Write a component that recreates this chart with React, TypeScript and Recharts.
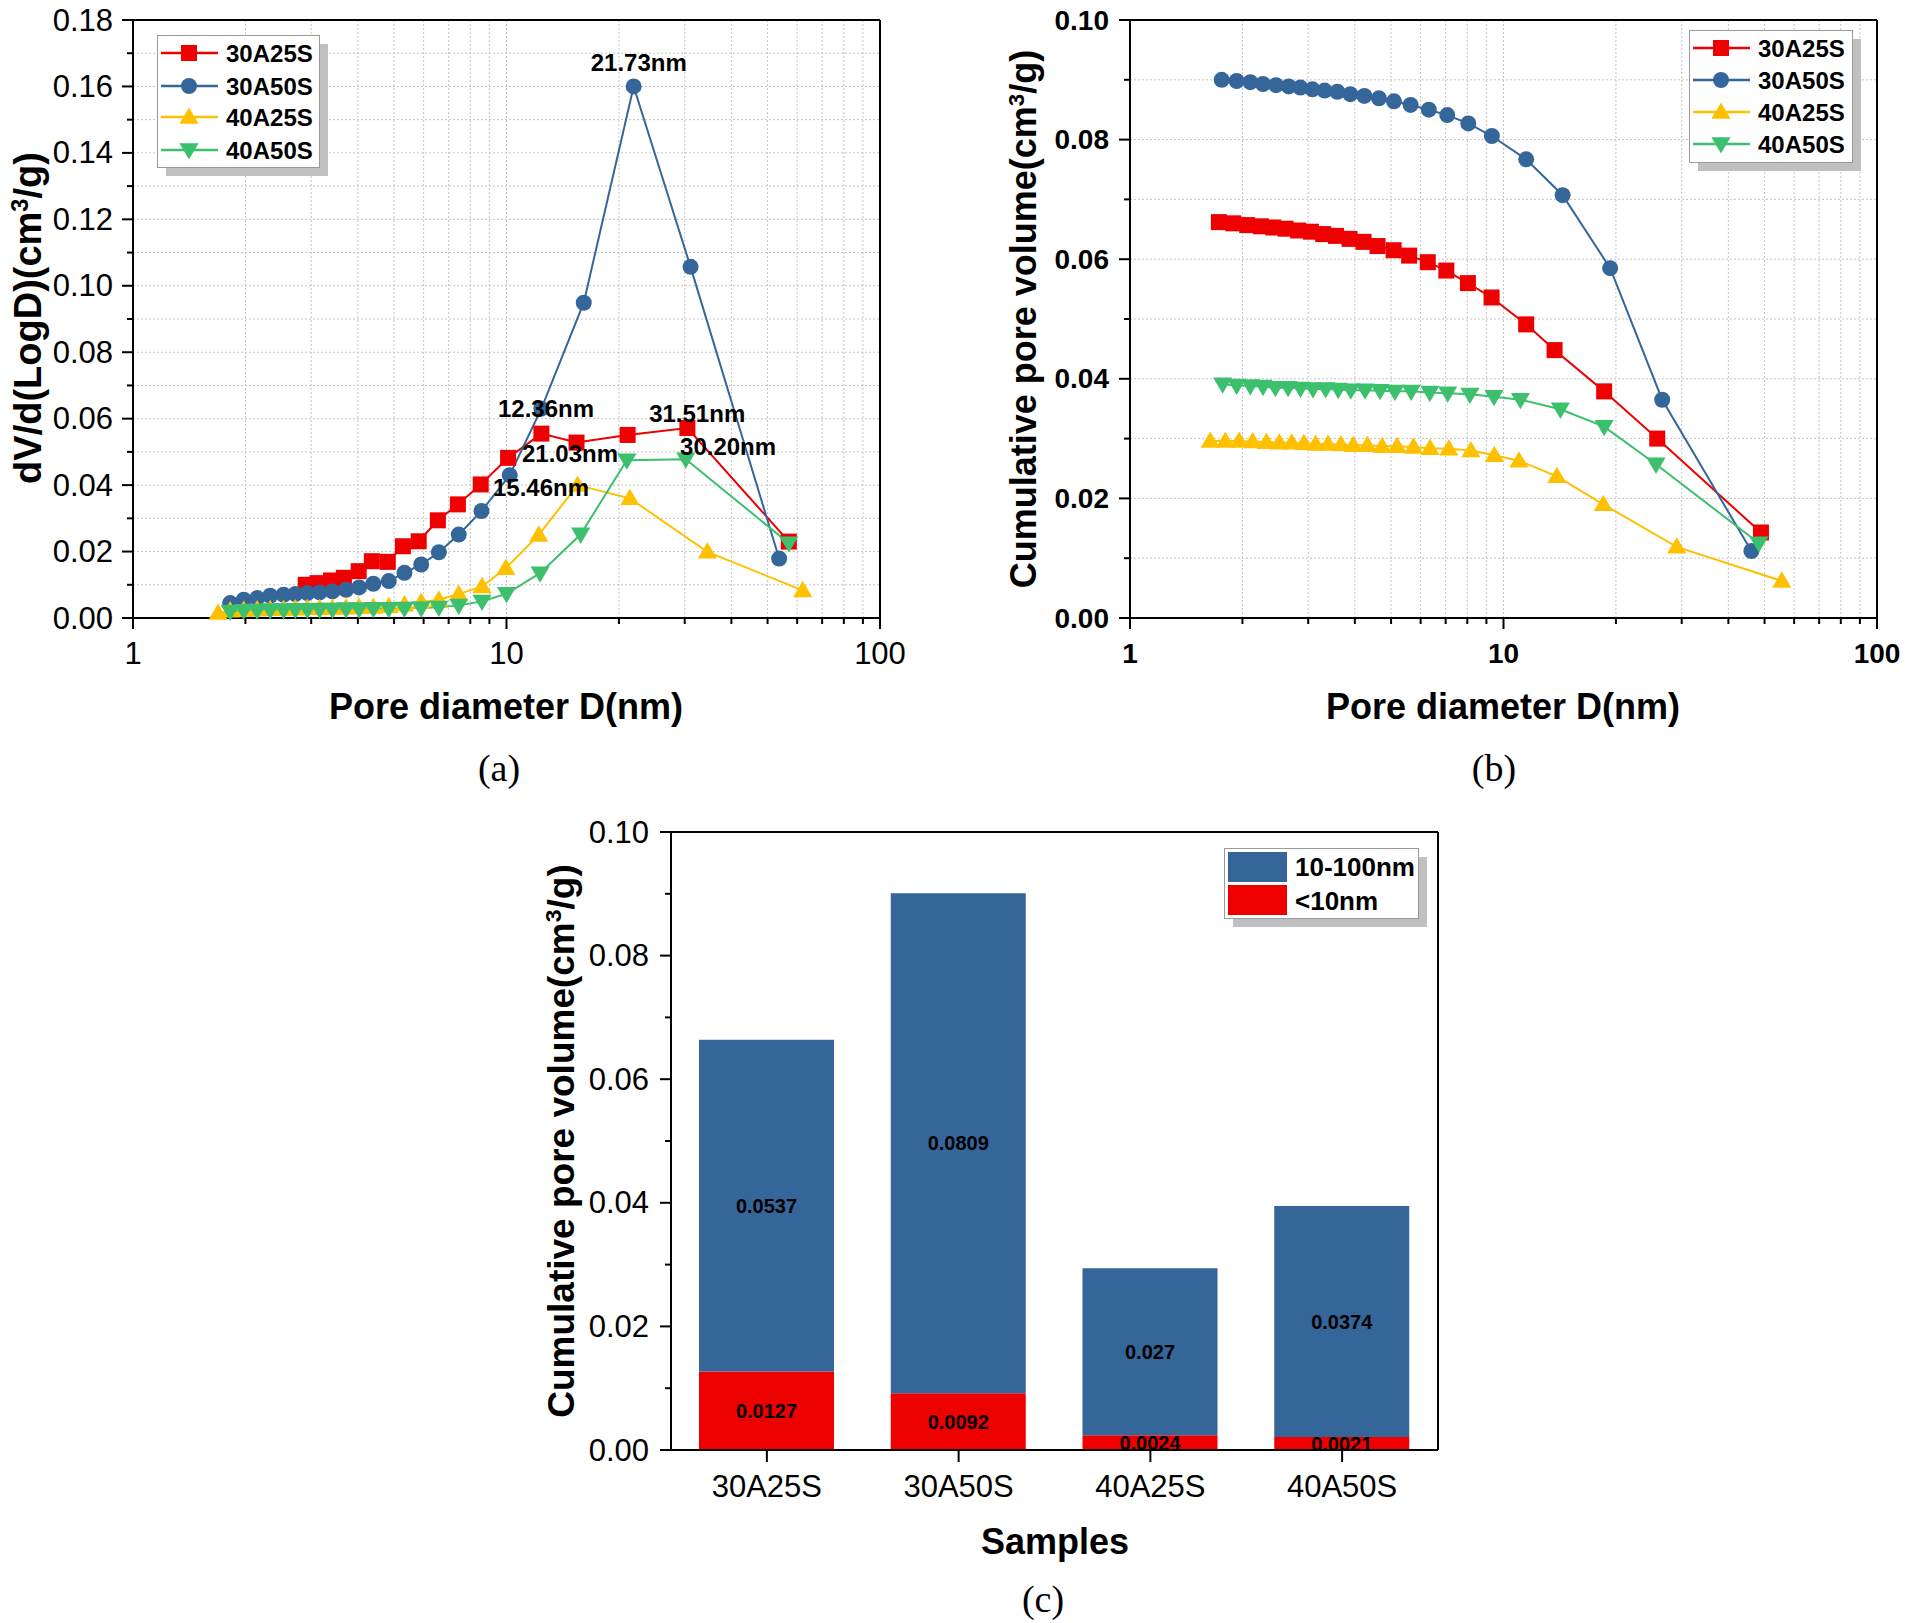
import React from "react";
import {
  Bar,
  BarChart,
  CartesianGrid,
  LabelList,
  Legend,
  Line,
  LineChart,
  ReferenceDot,
  XAxis,
  YAxis,
} from "recharts";

const FONT = "'Liberation Sans', Arial, Helvetica, sans-serif";
const SERIF = "'Liberation Serif', 'Times New Roman', serif";
const RED = "#ee0000";
const BLUE = "#35669a";
const YELLOW = "#ffc000";
const GREEN = "#3cc06e";
const GRID = "#c4c4c4";
const AX = { stroke: "#000", strokeWidth: 2 };

// ---- (a) pore size distribution, dV/d(logD)
const PSD_30A25S_D = [2.9, 3.12, 3.39, 3.67, 4.02, 4.36, 4.81, 5.28, 5.82, 6.55, 7.41, 8.53, 10.1, 12.4, 15.4, 21.1, 30.5, 57.0];
const PSD_30A25S_V = [0.01, 0.0105, 0.0113, 0.0121, 0.0141, 0.0171, 0.0169, 0.0216, 0.0231, 0.0294, 0.0342, 0.0402, 0.0482, 0.0555, 0.0528, 0.0551, 0.0572, 0.023];
const PSD_30A50S_D = [1.82, 1.98, 2.15, 2.33, 2.53, 2.72, 2.93, 3.16, 3.42, 3.72, 4.03, 4.4, 4.84, 5.33, 5.91, 6.59, 7.45, 8.57, 10.2, 12.4, 16.1, 21.9, 31.1, 53.7];
const PSD_30A50S_V = [0.0045, 0.0055, 0.006, 0.0067, 0.007, 0.0072, 0.0075, 0.0077, 0.008, 0.0085, 0.0092, 0.0103, 0.0111, 0.0136, 0.0161, 0.0198, 0.0251, 0.0322, 0.043, 0.063, 0.0949, 0.16, 0.1057, 0.0179];
const PSD_40A25S_D = [1.69, 1.82, 1.98, 2.15, 2.33, 2.53, 2.72, 2.93, 3.16, 3.42, 3.72, 4.03, 4.4, 4.84, 5.33, 5.91, 6.59, 7.45, 8.6, 9.96, 12.2, 15.5, 21.4, 34.5, 62.1];
const PSD_40A25S_V = [0.0015, 0.0022, 0.0024, 0.0025, 0.0026, 0.0027, 0.0028, 0.0029, 0.0029, 0.003, 0.0031, 0.0032, 0.0033, 0.0035, 0.004, 0.0048, 0.0055, 0.0072, 0.0095, 0.015, 0.025, 0.04, 0.036, 0.0199, 0.0083];
const PSD_40A50S_D = [1.82, 1.98, 2.15, 2.33, 2.53, 2.72, 2.93, 3.16, 3.42, 3.72, 4.03, 4.4, 4.84, 5.33, 5.91, 6.59, 7.45, 8.6, 10.0, 12.3, 15.8, 21.0, 30.2, 57.0];
const PSD_40A50S_V = [0.002, 0.0022, 0.0023, 0.0024, 0.0024, 0.0025, 0.0025, 0.0026, 0.0026, 0.0027, 0.0027, 0.0028, 0.0028, 0.0029, 0.003, 0.0032, 0.0038, 0.005, 0.0073, 0.0135, 0.0252, 0.0475, 0.0478, 0.0225];

// peak annotations (label centre in data coordinates)
const PEAK_TEXT = ["21.73nm", "12.36nm", "31.51nm", "21.03nm", "30.20nm", "15.46nm"];
const PEAK_X = [22.6, 12.76, 32.4, 14.79, 39.2, 12.37];
const PEAK_Y = [0.1671, 0.0632, 0.0617, 0.0494, 0.0515, 0.0394];

// ---- (b) cumulative pore volume
const CUM_30A25S_D = [1.73, 1.89, 2.06, 2.24, 2.42, 2.61, 2.82, 3.05, 3.29, 3.56, 3.87, 4.22, 4.6, 5.08, 5.59, 6.27, 7.03, 8.03, 9.29, 11.5, 13.7, 18.6, 25.8, 48.9];
const CUM_30A25S_V = [0.0662, 0.066, 0.0657, 0.0655, 0.0653, 0.0651, 0.0648, 0.0646, 0.0642, 0.0639, 0.0634, 0.0629, 0.0622, 0.0615, 0.0606, 0.0595, 0.0581, 0.056, 0.0536, 0.0491, 0.0448, 0.0379, 0.03, 0.0143];
const CUM_30A50S_D = [1.76, 1.93, 2.1, 2.27, 2.46, 2.66, 2.86, 3.08, 3.32, 3.59, 3.89, 4.24, 4.64, 5.09, 5.64, 6.31, 7.07, 8.05, 9.31, 11.5, 14.4, 19.3, 26.6, 46.1];
const CUM_30A50S_V = [0.09, 0.0898, 0.0896, 0.0893, 0.0891, 0.0889, 0.0887, 0.0884, 0.0882, 0.088, 0.0876, 0.0873, 0.0869, 0.0864, 0.0858, 0.085, 0.0841, 0.0827, 0.0806, 0.0767, 0.0707, 0.0585, 0.0365, 0.0112];
const CUM_40A25S_D = [1.64, 1.8, 1.96, 2.13, 2.32, 2.51, 2.71, 2.92, 3.14, 3.39, 3.67, 3.96, 4.32, 4.73, 5.19, 5.74, 6.36, 7.14, 8.18, 9.45, 11.0, 13.9, 18.5, 29.1, 55.6];
const CUM_40A25S_V = [0.0296, 0.0296, 0.0296, 0.0295, 0.0294, 0.0293, 0.0293, 0.0292, 0.0291, 0.0291, 0.029, 0.0289, 0.0289, 0.0287, 0.0287, 0.0286, 0.0284, 0.0283, 0.028, 0.0272, 0.0263, 0.0237, 0.019, 0.0119, 0.0062];
const CUM_40A50S_D = [1.77, 1.93, 2.1, 2.27, 2.45, 2.65, 2.86, 3.09, 3.34, 3.61, 3.9, 4.26, 4.67, 5.12, 5.66, 6.35, 7.09, 8.13, 9.43, 11.1, 14.2, 18.6, 25.6, 48.3];
const CUM_40A50S_V = [0.0391, 0.0389, 0.0388, 0.0387, 0.0385, 0.0385, 0.0384, 0.0383, 0.0383, 0.0382, 0.0381, 0.0381, 0.038, 0.0379, 0.0379, 0.0377, 0.0376, 0.0374, 0.037, 0.0365, 0.0349, 0.032, 0.0257, 0.0125];

// ---- (c) stacked pore volume
const SAMPLES = ["30A25S", "30A50S", "40A25S", "40A50S"];
const MICRO = [0.0127, 0.0092, 0.0024, 0.0021]; // <10nm
const MESO = [0.0537, 0.0809, 0.027, 0.0374]; // 10-100nm

// ---- ticks
const LOG_TICKS = [1, 2, 3, 4, 5, 6, 7, 8, 9, 10, 20, 30, 40, 50, 60, 70, 80, 90, 100];
const LOG_LABELS = [1, 10, 100];
const A_Y_TICKS = [0, 0.01, 0.02, 0.03, 0.04, 0.05, 0.06, 0.07, 0.08, 0.09, 0.1, 0.11, 0.12, 0.13, 0.14, 0.15, 0.16, 0.17, 0.18];
const B_Y_TICKS = [0, 0.01, 0.02, 0.03, 0.04, 0.05, 0.06, 0.07, 0.08, 0.09, 0.1];

const SERIES = [
  { name: "30A25S", color: RED, shape: "square" },
  { name: "30A50S", color: BLUE, shape: "circle" },
  { name: "40A25S", color: YELLOW, shape: "up" },
  { name: "40A50S", color: GREEN, shape: "down" },
];

const zip = (d: number[], v: number[]) => d.map((x, i) => ({ x, y: v[i] }));
const PSD = [
  zip(PSD_30A25S_D, PSD_30A25S_V),
  zip(PSD_30A50S_D, PSD_30A50S_V),
  zip(PSD_40A25S_D, PSD_40A25S_V),
  zip(PSD_40A50S_D, PSD_40A50S_V),
];
const CUM = [
  zip(CUM_30A25S_D, CUM_30A25S_V),
  zip(CUM_30A50S_D, CUM_30A50S_V),
  zip(CUM_40A25S_D, CUM_40A25S_V),
  zip(CUM_40A50S_D, CUM_40A50S_V),
];
const BARS = SAMPLES.map((name, i) => ({ name, micro: MICRO[i], meso: MESO[i] }));

function Marker({ cx, cy, shape, color, s = 16 }: any) {
  if (cx == null || cy == null) return null;
  const h = s / 2;
  if (shape === "square") return <rect x={cx - h} y={cy - h} width={s} height={s} fill={color} />;
  if (shape === "circle") return <circle cx={cx} cy={cy} r={h} fill={color} />;
  const t = h * 1.2;
  if (shape === "up")
    return <polygon points={`${cx},${cy - t} ${cx + t},${cy + t * 0.7} ${cx - t},${cy + t * 0.7}`} fill={color} />;
  return <polygon points={`${cx},${cy + t} ${cx + t},${cy - t * 0.7} ${cx - t},${cy - t * 0.7}`} fill={color} />;
}

const dotFor = (shape: string, color: string) => (p: any) =>
  <Marker key={`d${p.index}`} cx={p.cx} cy={p.cy} shape={shape} color={color} />;

function yTick(fontSize: number, bold: boolean, gap: number) {
  return (p: any) => {
    const v = p.payload.value;
    const major = Math.round(v * 100) % 2 === 0;
    return (
      <g>
        <line x1={p.x} x2={p.x - (major ? 11 : 6)} y1={p.y} y2={p.y} stroke="#000" strokeWidth={2} />
        {major && (
          <text x={p.x - gap} y={p.y} textAnchor="end" dominantBaseline="central" fontSize={fontSize}
            fontWeight={bold ? 700 : 400} fontFamily={FONT} fill="#000">
            {v.toFixed(2)}
          </text>
        )}
      </g>
    );
  };
}

function logXTick(fontSize: number, bold: boolean) {
  return (p: any) => {
    const v = p.payload.value;
    const major = LOG_LABELS.includes(v);
    return (
      <g>
        <line x1={p.x} x2={p.x} y1={p.y} y2={p.y + (major ? 11 : 6)} stroke="#000" strokeWidth={2} />
        {major && (
          <text x={p.x} y={p.y + 35} textAnchor="middle" dominantBaseline="central" fontSize={fontSize}
            fontWeight={bold ? 700 : 400} fontFamily={FONT} fill="#000">
            {String(v)}
          </text>
        )}
      </g>
    );
  };
}

function sampleTick(p: any) {
  return (
    <g>
      <line x1={p.x} x2={p.x} y1={p.y} y2={p.y + 12} stroke="#000" strokeWidth={2} />
      <text x={p.x} y={p.y + 36} textAnchor="middle" dominantBaseline="central" fontSize={31}
        fontFamily={FONT} fill="#000">
        {p.payload.value}
      </text>
    </g>
  );
}

function LineLegendBox({ w, h, rows }: { w: number; h: number; rows: number[] }) {
  return (
    <svg width={w + 12} height={h + 12} style={{ display: "block" }}>
      <rect x={9} y={9} width={w} height={h} fill="#c0c0c0" />
      <rect x={0.5} y={0.5} width={w} height={h} fill="#fff" stroke="#9a9a9a" strokeWidth={1} />
      {SERIES.map((s, i) => (
        <g key={s.name}>
          <line x1={4} x2={61} y1={rows[i]} y2={rows[i]} stroke={s.color} strokeWidth={2.5} />
          <Marker cx={32} cy={rows[i]} shape={s.shape} color={s.color} s={16} />
          <text x={69} y={rows[i]} dominantBaseline="central" fontSize={24} fontWeight={700}
            fontFamily={FONT} fill="#000">
            {s.name}
          </text>
        </g>
      ))}
    </svg>
  );
}

function BarLegendBox() {
  const items = [
    { name: "10-100nm", color: BLUE },
    { name: "<10nm", color: RED },
  ];
  return (
    <svg width={206} height={82} style={{ display: "block" }}>
      <rect x={9} y={9} width={194} height={70} fill="#c0c0c0" />
      <rect x={0.5} y={0.5} width={194} height={70} fill="#fff" stroke="#9a9a9a" strokeWidth={1} />
      {items.map((it, i) => (
        <g key={it.name}>
          <rect x={4} y={4 + i * 33} width={59} height={30} fill={it.color} />
          <text x={71} y={19 + i * 34} dominantBaseline="central" fontSize={26} fontWeight={700}
            fontFamily={FONT} fill="#000">
            {it.name}
          </text>
        </g>
      ))}
    </svg>
  );
}

// axes are 1px wide/high (zero-sized axes are not drawn); margins compensate
function PanelA() {
  return (
    <LineChart width={960} height={680} margin={{ top: 19, right: 79, bottom: 61, left: 132 }}>
      <CartesianGrid stroke={GRID} strokeDasharray="2 2" />
      <XAxis dataKey="x" type="number" scale="log" domain={[1, 100]} ticks={LOG_TICKS} interval={0}
        height={1} tickSize={0} tickMargin={0} tickLine={false} axisLine={AX} tick={logXTick(31, false)} />
      <XAxis xAxisId="top" orientation="top" type="number" scale="log" domain={[1, 100]} height={1}
        tick={false} tickLine={false} axisLine={AX} />
      <YAxis type="number" domain={[0, 0.18]} ticks={A_Y_TICKS} interval={0} width={1} tickSize={0}
        tickMargin={0} tickLine={false} axisLine={AX} tick={yTick(31, false, 20)} />
      <YAxis yAxisId="right" orientation="right" type="number" domain={[0, 0.18]} width={1}
        tick={false} tickLine={false} axisLine={AX} />
      {SERIES.map((s, i) => (
        <Line key={s.name} data={PSD[i]} dataKey="y" name={s.name} type="linear" stroke={s.color}
          strokeWidth={2} dot={dotFor(s.shape, s.color)} activeDot={false} isAnimationActive={false} />
      ))}
      {PEAK_TEXT.map((t, i) => (
        <ReferenceDot key={t} x={PEAK_X[i]} y={PEAK_Y[i]} r={0} fill="none" stroke="none"
          label={{ value: t, position: "center", fontSize: 24, fontWeight: 700, fontFamily: FONT, fill: "#000" }} />
      ))}
      <Legend layout="vertical" align="center" verticalAlign="middle"
        wrapperStyle={{ left: 157, top: 35, width: 174, height: 144 }}
        content={() => <LineLegendBox w={162} h={132} rows={[18, 51, 82, 115]} />} />
    </LineChart>
  );
}

function PanelB() {
  return (
    <LineChart width={905} height={680} margin={{ top: 19, right: 27, bottom: 61, left: 129 }}>
      <CartesianGrid stroke={GRID} strokeDasharray="2 2" />
      <XAxis dataKey="x" type="number" scale="log" domain={[1, 100]} ticks={LOG_TICKS} interval={0}
        height={1} tickSize={0} tickMargin={0} tickLine={false} axisLine={AX} tick={logXTick(28, true)} />
      <XAxis xAxisId="top" orientation="top" type="number" scale="log" domain={[1, 100]} height={1}
        tick={false} tickLine={false} axisLine={AX} />
      <YAxis type="number" domain={[0, 0.1]} ticks={B_Y_TICKS} interval={0} width={1} tickSize={0}
        tickMargin={0} tickLine={false} axisLine={AX} tick={yTick(28, true, 21)} />
      <YAxis yAxisId="right" orientation="right" type="number" domain={[0, 0.1]} width={1}
        tick={false} tickLine={false} axisLine={AX} />
      {SERIES.map((s, i) => (
        <Line key={s.name} data={CUM[i]} dataKey="y" name={s.name} type="linear" stroke={s.color}
          strokeWidth={2} dot={dotFor(s.shape, s.color)} activeDot={false} isAnimationActive={false} />
      ))}
      <Legend layout="vertical" align="center" verticalAlign="middle"
        wrapperStyle={{ left: 689, top: 30, width: 175, height: 144 }}
        content={() => <LineLegendBox w={163} h={132} rows={[18, 50, 82, 114]} />} />
    </LineChart>
  );
}

function PanelC() {
  return (
    <BarChart width={920} height={740} data={BARS} margin={{ top: 31, right: 21, bottom: 89, left: 130 }}>
      <XAxis dataKey="name" height={1} tickSize={0} tickMargin={0} tickLine={false} axisLine={AX}
        interval={0} tick={sampleTick} />
      <XAxis xAxisId="top" orientation="top" dataKey="name" height={1} tick={false} tickLine={false} axisLine={AX} />
      <YAxis type="number" domain={[0, 0.1]} ticks={B_Y_TICKS} interval={0} width={1} tickSize={0}
        tickMargin={0} tickLine={false} axisLine={AX} tick={yTick(31, false, 22)} />
      <YAxis yAxisId="right" orientation="right" type="number" domain={[0, 0.1]} width={1}
        tick={false} tickLine={false} axisLine={AX} />
      <Bar dataKey="micro" stackId="v" fill={RED} barSize={135} isAnimationActive={false}>
        <LabelList dataKey="micro" position="center" fill="#000" fontSize={20} fontWeight={700} fontFamily={FONT} />
      </Bar>
      <Bar dataKey="meso" stackId="v" fill={BLUE} barSize={135} isAnimationActive={false}>
        <LabelList dataKey="meso" position="center" fill="#000" fontSize={20} fontWeight={700} fontFamily={FONT} />
      </Bar>
      <Legend layout="vertical" align="center" verticalAlign="middle"
        wrapperStyle={{ left: 684, top: 48, width: 206, height: 82 }}
        content={() => <BarLegendBox />} />
    </BarChart>
  );
}

function Title({ cx, cy, size = 36, rotate = false, serif = false, children }: any) {
  return (
    <div
      style={{
        position: "absolute",
        left: cx,
        top: cy,
        transform: `translate(-50%, -50%)${rotate ? " rotate(-90deg)" : ""}`,
        whiteSpace: "nowrap",
        fontSize: size,
        fontWeight: serif ? 400 : 700,
        fontFamily: serif ? SERIF : FONT,
        lineHeight: 1,
        color: "#000",
      }}
    >
      {children}
    </div>
  );
}

const Sup = ({ children }: any) => (
  <span style={{ fontSize: "0.62em", position: "relative", top: "-0.55em" }}>{children}</span>
);

export default function App() {
  return (
    <div style={{ position: "absolute", left: 0, top: 0, width: 1905, height: 1623, background: "#fff" }}>
      <div style={{ position: "absolute", left: 0, top: 0 }}>
        <PanelA />
      </div>
      <div style={{ position: "absolute", left: 1000, top: 0 }}>
        <PanelB />
      </div>
      <div style={{ position: "absolute", left: 540, top: 800 }}>
        <PanelC />
      </div>

      <Title cx={28} cy={318} size={38} rotate>
        dV/d(LogD)(cm<Sup>3</Sup>/g)
      </Title>
      <Title cx={506} cy={707}>Pore diameter D(nm)</Title>
      <Title cx={499} cy={768} size={38} serif>(a)</Title>

      <Title cx={1024} cy={319} rotate>
        Cumulative pore volume(cm<Sup>3</Sup>/g)
      </Title>
      <Title cx={1503} cy={707}>Pore diameter D(nm)</Title>
      <Title cx={1494} cy={768} size={38} serif>(b)</Title>

      <Title cx={561} cy={1141} size={37} rotate>
        Cumulative pore volume(cm<Sup>3</Sup>/g)
      </Title>
      <Title cx={1055} cy={1542}>Samples</Title>
      <Title cx={1043} cy={1599} size={38} serif>(c)</Title>
    </div>
  );
}
